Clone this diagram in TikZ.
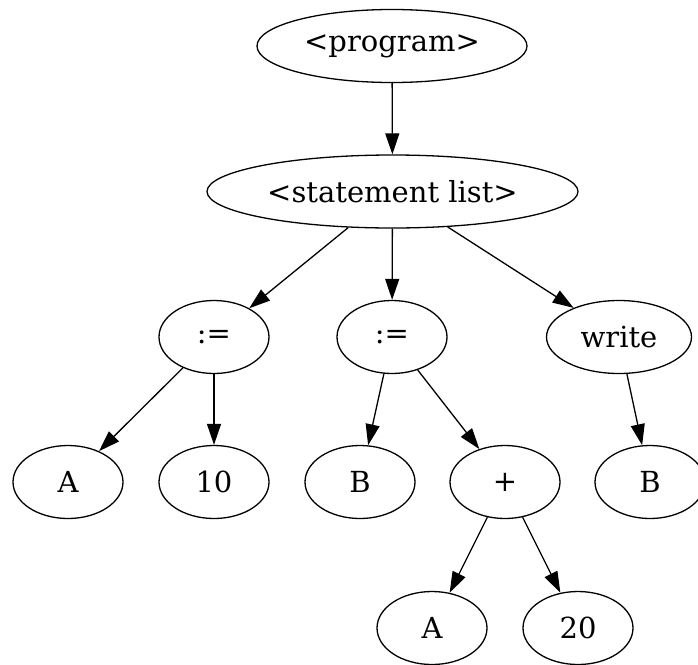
\documentclass[tikz,border=0pt]{standalone}
\usepackage{fontspec}
\setmainfont{DejaVu Serif}
\usetikzlibrary{shapes.geometric,arrows.meta}

\begin{document}
\begin{tikzpicture}[x=1pt,y=-1pt,font=\fontsize{29}{34}\selectfont,
  nodo/.style={draw,ellipse,line width=1.3pt,inner sep=0pt,minimum height=73pt,minimum width=110pt},
  freccia/.style={line width=1.3pt,-{Triangle[length=21pt,width=14pt]}}]

\useasboundingbox (0,0) rectangle (698,664);

%Albero sintattico

\begin{scope}
\node[nodo,minimum width=270pt] (prog) at (392,46) {<program>};
\node[nodo,minimum width=371pt] (sl) at (392.5,191.5) {<statement list>};

\node[nodo] (as1) at (214,337) {:=};
\node[nodo] (as2) at (392,337) {:=};
\node[nodo,minimum width=145pt] (wr) at (619,337) {write};

\node[nodo] (a1) at (68,482) {A};
\node[nodo] (n10) at (214,482) {10};
\node[nodo] (b1) at (360,482) {B};
\node[nodo] (piu) at (505,482) {+};
\node[nodo] (b2) at (650,482) {B};

\node[nodo] (a2) at (432,628) {A};
\node[nodo] (n20) at (578,628) {20};

\draw[freccia] (prog) -- (sl);
\draw[freccia] (sl) -- (as1);
\draw[freccia] (sl) -- (as2);
\draw[freccia] (sl) -- (wr);
\draw[freccia] (as1) -- (a1);
\draw[freccia] (as1) -- (n10);
\draw[freccia] (as2) -- (b1);
\draw[freccia] (as2) -- (piu);
\draw[freccia] (wr) -- (b2);
\draw[freccia] (piu) -- (a2);
\draw[freccia] (piu) -- (n20);
\end{scope}

\end{tikzpicture}
\end{document}
